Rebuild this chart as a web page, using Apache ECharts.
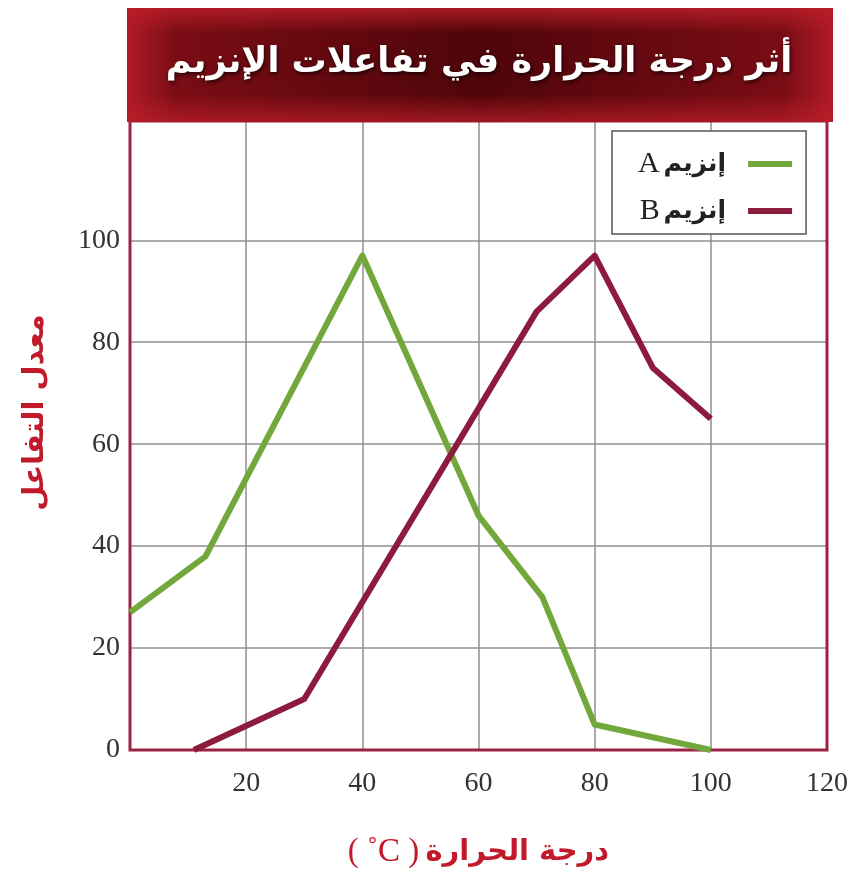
<!DOCTYPE html>
<html>
<head>
<meta charset="utf-8">
<script src="https://cdn.jsdelivr.net/npm/echarts@6/dist/echarts.min.js"></script>
<style>
	html, body { margin: 0; padding: 0; background: #fff; }
	#chart { width: 854px; height: 874px; }
</style>
</head>
<body>
<div id="chart"></div>
<script>
// temperature (°C) vs reaction rate
const tempA = [ 0, 13, 40, 60, 71, 80, 100 ];
const rateA = [ 27, 38, 97, 46, 30, 5, 0 ];
const tempB = [ 11, 30, 70, 80, 90, 100 ];
const rateB = [ 0, 10, 86, 97, 75, 65 ];

const seriesNames = [ 'إنزيم A', 'إنزيم B' ];
const xTickLabels = [ 20, 40, 60, 80, 100, 120 ];
const yTickLabels = [ 0, 20, 40, 60, 80, 100 ];

const titleText = 'أثر درجة الحرارة في تفاعلات الإنزيم';
const xName = 'درجة الحرارة';
const xUnit = '( ˚C )';
const yName = 'معدل التفاعل';

const GREEN = '#72a83b';
const MAROON = '#8c1b3d';
const AXIS_RED = '#c21a2b';
const ARABIC = '"DejaVu Sans", sans-serif';
const SERIF = '"Liberation Serif", "DejaVu Serif", serif';

const pairs = ( xs, ys ) => xs.map( ( x, i ) => [ x, ys[ i ] ] );

const chart = echarts.init( document.getElementById( 'chart' ), null, { renderer: 'canvas' } );

// the top gridline (120) is not drawn in the source, only 0..100
const yLineColors = yTickLabels.map( () => '#8f8f8f' ).concat( [ 'rgba(0,0,0,0)', 'rgba(0,0,0,0)' ] );

chart.setOption( {
	backgroundColor: '#fff',
	animation: false,
	title: {
		text: titleText,
		left: 474,
		top: 40,
		textAlign: 'center',
		z: 20,
		textStyle: {
			color: '#fff',
			fontFamily: ARABIC,
			fontWeight: 'bold',
			fontSize: 35,
			textShadowColor: 'rgba(0,0,0,0.7)',
			textShadowBlur: 4,
			textShadowOffsetX: 1,
			textShadowOffsetY: 2
		}
	},
	graphic: [
		{
			type: 'rect',
			z: 10,
			shape: { x: 127, y: 8, width: 706, height: 114 },
			style: {
				fill: new echarts.graphic.LinearGradient( 0, 0, 1, 0, [
					{ offset: 0, color: '#b01b27' },
					{ offset: 0.07, color: '#7a0c14' },
					{ offset: 0.5, color: '#4e050a' },
					{ offset: 0.93, color: '#7a0c14' },
					{ offset: 1, color: '#b01b27' }
				] )
			}
		},
		{
			type: 'rect',
			z: 11,
			shape: { x: 127, y: 8, width: 706, height: 114 },
			style: {
				fill: new echarts.graphic.LinearGradient( 0, 0, 0, 1, [
					{ offset: 0, color: 'rgba(185,30,40,0.85)' },
					{ offset: 0.22, color: 'rgba(185,30,40,0)' },
					{ offset: 0.75, color: 'rgba(185,30,40,0)' },
					{ offset: 1, color: 'rgba(185,30,40,0.75)' }
				] )
			}
		}
	],
	legend: {
		data: seriesNames,
		orient: 'vertical',
		left: 612,
		top: 131,
		align: 'right',
		icon: 'rect',
		itemWidth: 44,
		itemHeight: 6,
		itemGap: 17,
		padding: [ 18, 14, 8, 26 ],
		backgroundColor: '#fff',
		borderColor: '#555',
		borderWidth: 1.5,
		borderRadius: 0,
		z: 15,
		formatter: ( name ) => {
			const parts = name.split( ' ' );
			return '{l|' + parts[ 1 ] + '} {a|' + parts[ 0 ] + '}';
		},
		textStyle: {
			fontSize: 14,
			padding: [ 0, 17, 0, 0 ],
			rich: {
				l: { fontFamily: SERIF, fontSize: 30, color: '#222', lineHeight: 28 },
				a: { fontFamily: ARABIC, fontWeight: 'bold', fontSize: 25, color: '#222', lineHeight: 28 }
			}
		}
	},
	grid: {
		left: 130,
		right: 27,
		top: 121,
		bottom: 122,
		show: true,
		borderColor: '#9c2142',
		borderWidth: 3,
		z: 4
	},
	xAxis: {
		type: 'value',
		min: 0,
		max: 120,
		interval: 20,
		name: '{u|' + xUnit + '} {t|' + xName + '}',
		nameLocation: 'middle',
		nameGap: 86,
		nameTextStyle: {
			fontSize: 22,
			rich: {
				u: { fontFamily: SERIF, fontSize: 33, color: AXIS_RED },
				t: { fontFamily: ARABIC, fontWeight: 'bold', fontSize: 29, color: AXIS_RED }
			}
		},
		axisLine: { show: false },
		axisTick: { show: false },
		axisLabel: {
			margin: 20,
			fontFamily: SERIF,
			fontSize: 28,
			color: '#333',
			formatter: ( v ) => ( xTickLabels.indexOf( v ) >= 0 ? String( v ) : '' )
		},
		splitLine: { show: true, lineStyle: { color: '#8f8f8f', width: 1.5 } }
	},
	yAxis: {
		type: 'value',
		min: 0,
		max: 123.4,
		interval: 20,
		name: yName,
		nameLocation: 'middle',
		nameGap: 80,
		nameRotate: 90,
		nameTextStyle: {
			fontFamily: ARABIC,
			fontWeight: 'bold',
			fontSize: 29,
			color: AXIS_RED,
			padding: [ 0, 0, 0, 46 ]
		},
		axisLine: { show: false },
		axisTick: { show: false },
		axisLabel: {
			margin: 10,
			fontFamily: SERIF,
			fontSize: 28,
			color: '#333',
			formatter: ( v ) => ( yTickLabels.indexOf( v ) >= 0 ? String( v ) : '' )
		},
		splitLine: { show: true, lineStyle: { color: yLineColors, width: 1.5 } }
	},
	series: [
		{
			name: seriesNames[ 0 ],
			type: 'line',
			data: pairs( tempA, rateA ),
			symbol: 'none',
			color: GREEN,
			lineStyle: { width: 6, color: GREEN, join: 'round' },
			z: 5
		},
		{
			name: seriesNames[ 1 ],
			type: 'line',
			data: pairs( tempB, rateB ),
			symbol: 'none',
			color: MAROON,
			lineStyle: { width: 6, color: MAROON, join: 'round' },
			z: 6
		}
	]
} );
</script>
</body>
</html>
